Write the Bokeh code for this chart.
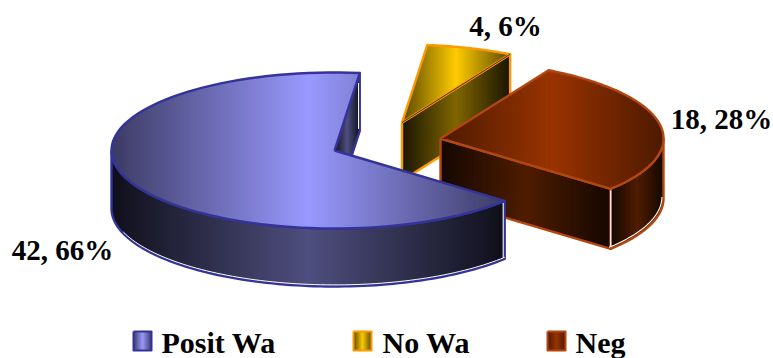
import numpy as np
from bokeh.plotting import figure
from bokeh.models import ColumnDataSource
from bokeh.core.properties import value
from bokeh.embed import file_html
from bokeh.resources import INLINE

categories = ["Posit Wa", "No Wa", "Neg"]
counts = [42, 4, 18]

WIDTH, HEIGHT = 773, 358
A, B, DEPTH = 223.0, 78.0, 58.0          # tilted ellipse radii and slice thickness
START_DEG = 83.5                         # where the first slice begins
OFFSETS = [(334.0, 150.0), (401.5, 122.0), (440.0, 138.0)]   # exploded slice apexes

EDGE = ["#333399", "#ff9900", "#b34710"]
TOP_MID = ["#9999ff", "#ffcc00", "#993300"]
TOP_END = ["#3c3b64", "#5a4800", "#4d1a00"]
SIDE_MID = ["#4f4f80", "#806600", "#4f1c00"]
SIDE_END = ["#0f0f1a", "#1a1500", "#140700"]
LABEL_POS = [(62, 249), (505, 25), (721, 118)]
FONT = "Liberation Serif"

total = sum(counts)
sweeps = [c / total * 360.0 for c in counts]


def hex_rgb(h):
    return np.array([int(h[i:i + 2], 16) for i in (1, 3, 5)], float)


def mix(a, b, t):
    c = hex_rgb(a) * (1 - t) + hex_rgb(b) * t
    return "#%02x%02x%02x" % tuple(int(round(v)) for v in c)


def clip_band(poly, x0, x1):
    """Cut a polygon to the vertical band x0..x1."""
    def clip(points, keep, cross):
        out = []
        for i, p in enumerate(points):
            q = points[(i + 1) % len(points)]
            if keep(p):
                out.append(p)
            if keep(p) != keep(q):
                t = (cross - p[0]) / (q[0] - p[0])
                out.append((cross, p[1] + t * (q[1] - p[1])))
        return out
    pts = clip(list(poly), lambda p: p[0] >= x0, x0)
    if pts:
        pts = clip(pts, lambda p: p[0] <= x1, x1)
    return pts


def shade(fig, poly, end, mid, step=2):
    """Fill a polygon with a horizontal end-mid-end ramp of pixel-aligned bands."""
    xs_all = [p[0] for p in poly]
    lo, hi = min(xs_all), max(xs_all)
    xs, ys, cols = [], [], []
    for x0 in np.arange(np.floor(lo), hi, step):
        pts = clip_band(poly, x0, x0 + step + 1)
        if len(pts) < 3:
            continue
        t = min(1.0, abs((x0 + step / 2 - lo) / (hi - lo) * 2 - 1))
        xs.append([p[0] for p in pts])
        ys.append([p[1] for p in pts])
        cols.append(mix(mid, end, t))
    src = ColumnDataSource(dict(xs=xs, ys=ys, c=cols))
    fig.patches("xs", "ys", source=src, fill_color="c", line_color=None)


def rim(c, t0, t1, n=90):
    ts = np.radians(np.linspace(t0, t1, n))
    return [(c[0] + A * np.cos(t), c[1] - B * np.sin(t)) for t in ts]


def lower(points, dy=DEPTH):
    return [(x, y + dy) for x, y in points]


def outline(fig, points, color, width=2.4):
    fig.line([p[0] for p in points], [p[1] for p in points],
             line_color=color, line_width=width, line_join="round")


p = figure(width=WIDTH, height=HEIGHT, x_range=(0, WIDTH), y_range=(HEIGHT, 0),
           output_backend="svg", toolbar_location=None, min_border=0,
           background_fill_color="white", border_fill_color="white")
p.axis.visible = False
p.grid.visible = False
p.outline_line_color = None

# the first slice sweeps counter-clockwise from the start angle,
# the other two follow clockwise from the same angle
blue_from, blue_to = START_DEG, START_DEG + sweeps[0]
yellow_from, yellow_to = START_DEG - sweeps[1], START_DEG
neg_from, neg_to = yellow_from - sweeps[2], yellow_from

# --- No Wa: cut face on the right, top surface ---
c = OFFSETS[1]
arc = rim(c, yellow_from, yellow_to)
face = [c, arc[0], (arc[0][0], arc[0][1] + DEPTH), (c[0], c[1] + DEPTH)]
shade(p, face, SIDE_END[1], SIDE_MID[1])
outline(p, face + [c], EDGE[1])
top = [c] + arc
shade(p, top, TOP_END[1], TOP_MID[1])
outline(p, top + [c], EDGE[1])
outline(p, [c, arc[0]], "#000000", 0.7)

# --- Neg: cut face, outer wall, top surface ---
c = OFFSETS[2]
arc = rim(c, neg_from, neg_to)
face = [c, arc[0], (arc[0][0], arc[0][1] + DEPTH + 2), (c[0], c[1] + DEPTH + 2)]
shade(p, face, SIDE_END[2], SIDE_MID[2])
outline(p, face + [c], EDGE[2])
wall_top = rim(c, neg_from, 0)
wall = wall_top + lower(wall_top, DEPTH + 2)[::-1]
shade(p, wall, SIDE_END[2], SIDE_MID[2])
outline(p, wall + [wall[0]], EDGE[2])
outline(p, [(x - 1.6, y - 1.6) for x, y in lower(wall_top, DEPTH + 2)], "#ffffff", 1.1)
top = [c] + arc
shade(p, top, TOP_END[2], TOP_MID[2])
outline(p, top + [c], EDGE[2])
outline(p, [(arc[0][0], arc[0][1] + 1.5), (arc[0][0], arc[0][1] + DEPTH)], "#ffffff", 1.2)

# --- Posit Wa: inner face, outer wall, top surface ---
c = OFFSETS[0]
arc = rim(c, blue_from, blue_to)
inner = [c, arc[0], (arc[0][0], arc[0][1] + DEPTH), (c[0], c[1] + DEPTH)]
shade(p, inner, SIDE_END[0], SIDE_MID[0], step=1)
outline(p, inner + [c], EDGE[0])
wall_top = rim(c, 180, blue_to)
wall = wall_top + lower(wall_top)[::-1]
shade(p, wall, SIDE_END[0], SIDE_MID[0])
outline(p, wall + [wall[0]], EDGE[0])
outline(p, [(x, y - 1.6) for x, y in lower(wall_top)][12:], "#ffffff", 1.0)
outline(p, [(arc[-1][0] - 1.5, arc[-1][1] + 2), (arc[-1][0] - 1.5, arc[-1][1] + DEPTH - 1)], "#ffffff", 1.1)
outline(p, [(arc[0][0] - 1.2, arc[0][1] + 10), (arc[0][0] - 1.2, arc[0][1] + DEPTH - 2)], "#ffffff", 1.0)
top = [c] + arc
shade(p, top, TOP_END[0], TOP_MID[0])
outline(p, top + [c], EDGE[0])

# --- value labels ---
labels = [f"{v}, {round(v / total * 100)}%" for v in counts]
p.text([q[0] for q in LABEL_POS], [q[1] for q in LABEL_POS], text=labels,
       text_font=value(FONT), text_font_style="bold", text_font_size="29px",
       text_color="#000000", text_align="center", text_baseline="middle")

# --- legend ---
swatch_x = [133, 353, 547]
text_x = [161, 382, 575]
for i, name in enumerate(categories):
    x0, x1, y0, y1 = swatch_x[i], swatch_x[i] + 18, 331, 350
    box = [(x0, y0), (x1, y0), (x1, y1), (x0, y1)]
    shade(p, box, TOP_END[i], TOP_MID[i], step=1)
    outline(p, box + [box[0]], EDGE[i], 2.0)
p.text(text_x, [342] * 3, text=categories, text_font=value(FONT),
       text_font_style="bold", text_font_size="30px", text_color="#000000",
       text_align="left", text_baseline="middle")

open("out.html", "w").write(file_html(p, INLINE))
